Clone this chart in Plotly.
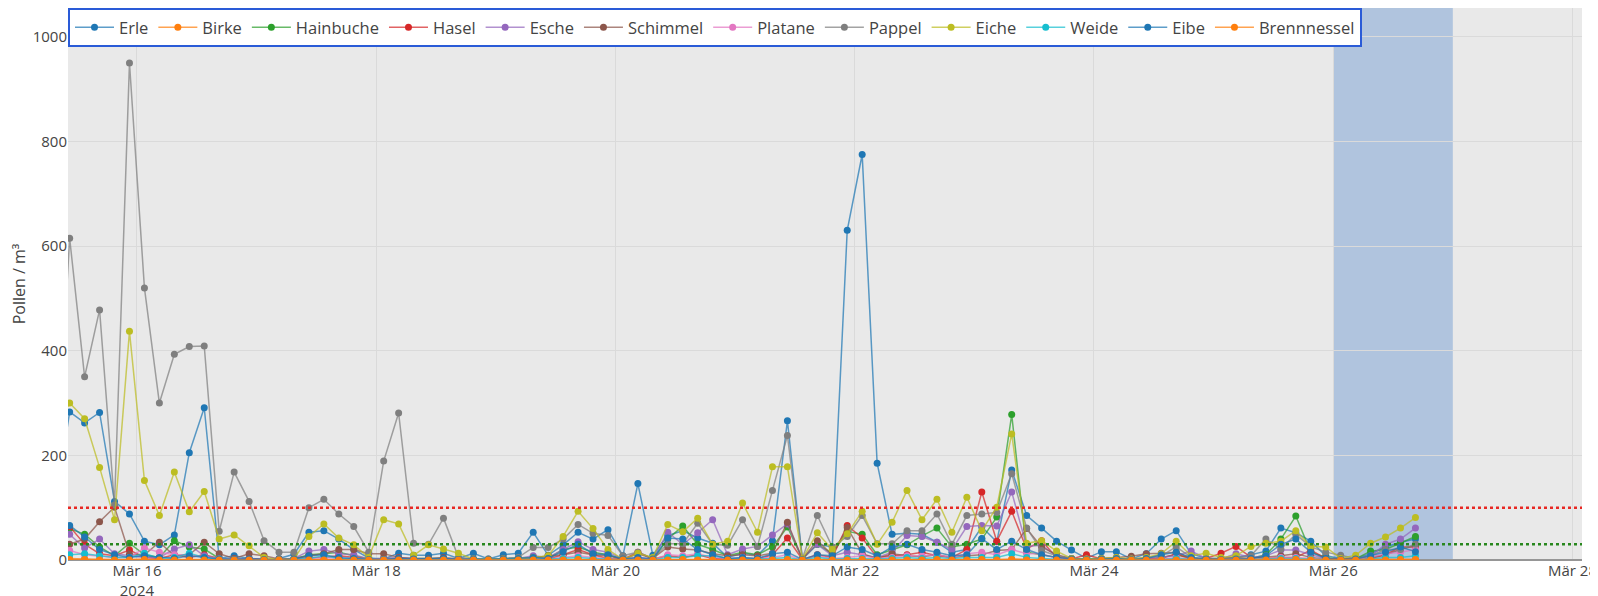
import pandas as pd
import plotly.graph_objects as go

# 3-hourly pollen counts, first point lies just left of the visible range
times = pd.date_range("2024-03-15 07:30", periods=92, freq="3h")

erle = [100, 283, 262, 282, 112, 88, 36, 29,
        48, 205, 291, 3, 8, 3, 0, 3,
        11, 53, 56, 40, 20, 4, 2, 13,
        9, 9, 13, 3, 13, 2, 10, 13,
        53, 9, 29, 53, 40, 58, 8, 146,
        9, 47, 56, 42, 32, 5, 13, 9,
        37, 266, 2, 30, 25, 630, 775, 185,
        49, 51, 49, 34, 15, 20, 63, 35,
        172, 85, 61, 36, 19, 3, 16, 16,
        2, 12, 40, 56, 12, 3, 3, 5,
        10, 17, 61, 52, 36, 8, 3, 3,
        12, 25, 34, 40]
birke = [2, 3, 2, 1, 1, 1, 2, 1,
         1, 1, 1, 0, 0, 0, 0, 0,
         0, 1, 1, 1, 0, 0, 0, 0,
         0, 0, 0, 0, 0, 0, 0, 0,
         0, 0, 1, 1, 1, 0, 0, 0,
         0, 1, 1, 1, 1, 0, 1, 0,
         1, 1, 0, 1, 0, 1, 1, 0,
         1, 1, 1, 1, 0, 1, 1, 1,
         2, 1, 1, 0, 0, 0, 0, 0,
         0, 0, 0, 1, 0, 0, 0, 0,
         0, 0, 1, 1, 1, 0, 0, 0,
         0, 1, 1, 1]
hainbuche = [40, 60, 49, 25, 8, 32, 10, 5,
             37, 25, 21, 3, 2, 3, 1, 0,
             2, 10, 12, 15, 8, 2, 3, 3,
             2, 2, 3, 1, 1, 0, 1, 2,
             5, 3, 20, 25, 15, 10, 1, 3,
             1, 40, 65, 30, 20, 8, 15, 10,
             25, 63, 2, 30, 12, 55, 49, 10,
             20, 29, 46, 61, 25, 30, 40, 82,
             278, 15, 10, 5, 2, 1, 2, 2,
             1, 2, 5, 10, 3, 2, 1, 2,
             3, 10, 40, 84, 15, 5, 1, 2,
             17, 20, 33, 45]
hasel = [40, 64, 30, 12, 8, 19, 5, 3,
         10, 5, 10, 3, 2, 2, 1, 0,
         1, 5, 5, 8, 5, 2, 3, 2,
         1, 1, 2, 1, 0, 0, 1, 1,
         2, 2, 10, 20, 10, 3, 1, 15,
         2, 8, 5, 10, 3, 2, 3, 2,
         10, 42, 1, 10, 5, 66, 42, 5,
         8, 10, 15, 8, 5, 20, 130, 36,
         93, 21, 37, 5, 2, 10, 2, 1,
         1, 2, 3, 12, 2, 3, 13, 26,
         5, 3, 5, 5, 19, 3, 1, 1,
         3, 10, 25, 25]
esche = [30, 49, 23, 40, 12, 8, 5, 5,
         21, 29, 8, 3, 2, 3, 2, 0,
         3, 17, 20, 12, 10, 2, 3, 5,
         3, 2, 3, 2, 1, 1, 2, 3,
         8, 5, 20, 35, 20, 15, 2, 5,
         2, 53, 30, 52, 77, 10, 21, 26,
         48, 69, 2, 30, 8, 15, 10, 5,
         15, 47, 45, 34, 20, 64, 66, 65,
         130, 26, 28, 8, 2, 1, 2, 3,
         1, 3, 5, 8, 17, 3, 2, 12,
         5, 8, 19, 19, 10, 3, 1, 2,
         8, 30, 40, 61]
schimmel = [20, 30, 40, 73, 101, 11, 10, 34,
            8, 10, 34, 12, 3, 12, 8, 2,
            3, 8, 12, 20, 20, 12, 12, 5,
            3, 3, 5, 2, 1, 1, 3, 2,
            5, 8, 10, 15, 10, 8, 1, 12,
            3, 25, 21, 19, 12, 8, 10, 8,
            13, 72, 2, 37, 10, 62, 12, 3,
            12, 8, 6, 10, 5, 8, 10, 18,
            20, 60, 25, 10, 3, 2, 3, 5,
            7, 12, 13, 15, 3, 2, 3, 5,
            3, 5, 8, 12, 5, 2, 1, 2,
            5, 10, 20, 28]
platane = [10, 18, 10, 8, 5, 5, 23, 15,
           10, 10, 5, 2, 1, 1, 0, 0,
           1, 3, 5, 3, 2, 1, 1, 1,
           1, 0, 1, 0, 0, 0, 1, 1,
           2, 2, 5, 8, 5, 3, 0, 3,
           1, 10, 8, 12, 5, 3, 5, 3,
           5, 10, 0, 8, 3, 5, 8, 3,
           5, 8, 8, 10, 5, 12, 15, 10,
           20, 12, 12, 3, 1, 0, 1, 1,
           0, 1, 2, 5, 2, 1, 1, 3,
           2, 3, 5, 5, 3, 1, 0, 1,
           5, 12, 15, 20]
pappel = [120, 615, 350, 478, 105, 950, 520, 300,
          393, 408, 409, 55, 168, 112, 37, 15,
          15, 100, 116, 88, 64, 15, 189, 281,
          32, 30, 80, 5, 3, 2, 3, 5,
          24, 24, 40, 68, 51, 47, 8, 15,
          3, 31, 31, 70, 30, 28, 77, 26,
          133, 238, 3, 85, 25, 45, 85, 31,
          31, 56, 56, 88, 30, 85, 88, 91,
          165, 61, 18, 8, 3, 2, 3, 3,
          2, 5, 8, 25, 5, 3, 3, 5,
          8, 40, 21, 49, 25, 15, 9, 3,
          8, 20, 20, 30]
eiche = [250, 300, 270, 177, 77, 437, 152, 85,
         168, 92, 131, 40, 48, 27, 5, 0,
         2, 45, 69, 42, 29, 5, 77, 69,
         9, 29, 21, 13, 2, 1, 2, 3,
         5, 8, 45, 93, 60, 20, 1, 13,
         5, 68, 54, 80, 30, 36, 109, 53,
         178, 178, 2, 52, 20, 50, 93, 30,
         72, 133, 77, 116, 53, 120, 56, 101,
         241, 32, 37, 17, 3, 2, 3, 5,
         2, 5, 12, 36, 8, 13, 5, 8,
         26, 32, 36, 56, 26, 25, 3, 9,
         32, 44, 61, 81]
weide = [5, 10, 12, 8, 5, 5, 13, 3,
         5, 13, 5, 2, 1, 1, 0, 0,
         1, 3, 8, 3, 2, 1, 1, 1,
         1, 0, 1, 0, 0, 0, 1, 1,
         1, 2, 3, 5, 3, 2, 0, 1,
         0, 5, 5, 8, 8, 3, 2, 2,
         3, 5, 0, 5, 2, 3, 3, 2,
         3, 5, 3, 5, 3, 5, 5, 5,
         12, 5, 3, 1, 0, 0, 0, 1,
         0, 1, 1, 3, 1, 0, 0, 1,
         1, 2, 3, 3, 2, 0, 0, 0,
         2, 5, 5, 8]
eibe = [20, 66, 44, 20, 10, 5, 8, 5,
        3, 8, 5, 2, 1, 2, 1, 0,
        2, 8, 10, 5, 3, 1, 1, 3,
        2, 2, 3, 1, 2, 1, 2, 3,
        5, 3, 16, 30, 12, 10, 2, 5,
        2, 42, 40, 20, 10, 3, 5, 3,
        12, 15, 1, 10, 8, 25, 20, 8,
        25, 30, 20, 15, 8, 10, 41, 20,
        36, 20, 10, 5, 2, 1, 2, 3,
        1, 3, 10, 15, 5, 2, 1, 2,
        3, 8, 30, 40, 15, 3, 1, 2,
        8, 15, 25, 16]
brennnessel = [0, 1, 1, 0, 0, 0, 1, 0,
               0, 0, 0, 0, 0, 0, 0, 0,
               0, 0, 0, 0, 0, 0, 0, 0,
               0, 0, 0, 0, 0, 0, 0, 0,
               0, 0, 0, 1, 0, 0, 0, 0,
               0, 0, 1, 0, 0, 0, 0, 0,
               0, 1, 0, 0, 0, 0, 1, 0,
               0, 0, 0, 1, 0, 0, 1, 0,
               1, 0, 0, 0, 0, 0, 0, 0,
               0, 0, 0, 0, 0, 0, 0, 0,
               0, 0, 0, 1, 0, 0, 0, 0,
               0, 0, 1, 1]

series = [
    ("Erle", erle, "31,119,180"),
    ("Birke", birke, "255,127,14"),
    ("Hainbuche", hainbuche, "44,160,44"),
    ("Hasel", hasel, "214,39,40"),
    ("Esche", esche, "148,103,189"),
    ("Schimmel", schimmel, "140,86,75"),
    ("Platane", platane, "227,119,194"),
    ("Pappel", pappel, "127,127,127"),
    ("Eiche", eiche, "188,189,34"),
    ("Weide", weide, "23,190,207"),
    ("Eibe", eibe, "31,119,180"),
    ("Brennnessel", brennnessel, "255,127,14"),
]

tick_dates = ["2024-03-16", "2024-03-18", "2024-03-20", "2024-03-22",
              "2024-03-24", "2024-03-26", "2024-03-28"]
tick_text = ["Mär 16<br>2024", "Mär 18", "Mär 20", "Mär 22",
             "Mär 24", "Mär 26", "Mär 28"]
x_range = ["2024-03-15 10:10", "2024-03-28 01:55"]
y_max = 1055
thresholds = [(100, "rgb(232,40,35)"), (30, "rgb(40,135,30)")]
today = ["2024-03-26", "2024-03-27"]

fig = go.Figure()
for name, vals, rgb in series:
    fig.add_trace(go.Scatter(
        x=times, y=vals, name=name, mode="lines+markers",
        line=dict(color=f"rgba({rgb},0.72)", width=1.5),
        marker=dict(color=f"rgb({rgb})", size=7),
    ))

fig.add_shape(type="rect", xref="x", yref="y", x0=today[0], x1=today[1],
              y0=0, y1=y_max, fillcolor="rgb(176,196,222)", line_width=0,
              layer="below")
for yv, col in thresholds:
    fig.add_shape(type="line", xref="paper", yref="y", x0=0, x1=1, y0=yv, y1=yv,
                  line=dict(color=col, width=2.5, dash="dot"))

# the page body adds an 8px offset, so the figure is a bit smaller than the window
fig.update_layout(
    width=1590, height=588,
    margin=dict(l=60, r=16, t=0, b=36),
    plot_bgcolor="rgb(233,233,233)",
    paper_bgcolor="white",
    font=dict(family="Open Sans, sans-serif", size=15, color="#444"),
    legend=dict(orientation="h", x=0, y=1, xanchor="left", yanchor="top",
                bgcolor="white", bordercolor="rgb(42,91,215)", borderwidth=2,
                itemwidth=39, font=dict(size=16.5)),
    xaxis=dict(range=x_range, tickvals=tick_dates, ticktext=tick_text,
               gridcolor="rgb(218,218,218)", showline=False, zeroline=False,
               automargin=False),
    yaxis=dict(range=[0, y_max], dtick=200, automargin=False,
               title=dict(text="Pollen / m³", font=dict(size=16), standoff=12),
               gridcolor="rgb(218,218,218)", zeroline=True,
               zerolinecolor="rgb(150,150,150)", zerolinewidth=2),
)

fig.write_html("out.html")
